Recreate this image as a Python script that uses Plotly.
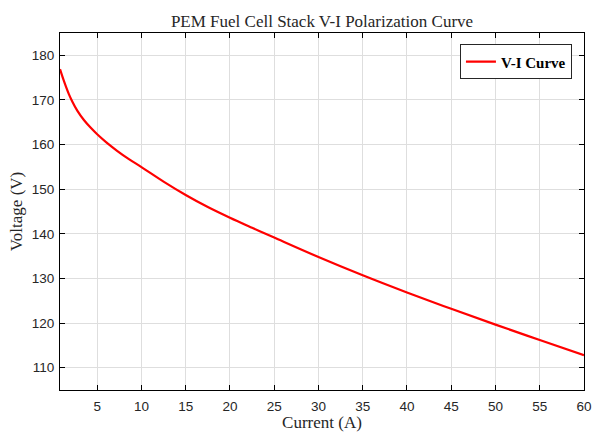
import plotly.graph_objects as go

# Stack current (A) and measured stack voltage (V)
current_a = [0.8, 1.25, 1.8, 2.2, 2.75, 3.5, 4.25, 5, 6, 7.25, 8.5, 10,
             12.5, 15, 17.5, 20, 22.5, 25, 30, 35, 40, 45, 50, 55, 60]
voltage_v = [176.9, 174.2, 171.3, 169.6, 167.6, 165.5, 163.8, 162.3, 160.55,
             158.6, 156.85, 154.95, 151.7, 148.7, 146.0, 143.6, 141.35, 139.15,
             134.8, 130.7, 126.85, 123.2, 119.65, 116.2, 112.8]

x_ticks = [5, 10, 15, 20, 25, 30, 35, 40, 45, 50, 55, 60]
y_ticks = [110, 120, 130, 140, 150, 160, 170, 180]

serif = "Liberation Serif, Times New Roman, serif"
sans = "Liberation Sans, Arial, sans-serif"

fig = go.Figure()
fig.add_trace(go.Scatter(
    x=current_a, y=voltage_v, mode="lines", name="V-I Curve",
    line=dict(color="#ff0000", width=2.2, shape="spline", smoothing=1.0),
))

axis_common = dict(
    showline=True, linecolor="black", linewidth=1, mirror="ticks",
    ticks="inside", ticklen=5, tickwidth=1, tickcolor="black",
    showgrid=True, gridcolor="#dedede", gridwidth=1, zeroline=False,
    automargin=False,
    tickfont=dict(family=sans, size=13.5, color="#262626"),
)

fig.update_xaxes(range=[0.8, 60], tickvals=x_ticks, ticklabelstandoff=4,
                 title=dict(text="Current (A)", standoff=4,
                            font=dict(family=serif, size=17, color="#262626")),
                 **axis_common)
fig.update_yaxes(range=[105, 185], tickvals=y_ticks, ticklabelstandoff=2,
                 title=dict(text="Voltage (V)", standoff=4,
                            font=dict(family=serif, size=17, color="#262626")),
                 **axis_common)

fig.update_layout(
    width=592, height=432,
    margin=dict(l=60, r=8, t=33, b=42),
    paper_bgcolor="white", plot_bgcolor="white",
    title=dict(text="PEM Fuel Cell Stack V-I Polarization Curve",
               x=(60 + 584) / 2 / 592, xanchor="center", y=1 - 21 / 432,
               yanchor="middle",
               font=dict(family=serif, size=17, color="#262626")),
    showlegend=True,
    legend=dict(x=0.977, y=0.968, xanchor="right", yanchor="top",
                bgcolor="white", bordercolor="#262626", borderwidth=1,
                font=dict(family=serif, size=15, color="black", weight="bold"),
                itemwidth=30, tracegroupgap=0),
)

fig.write_html("out.html")
